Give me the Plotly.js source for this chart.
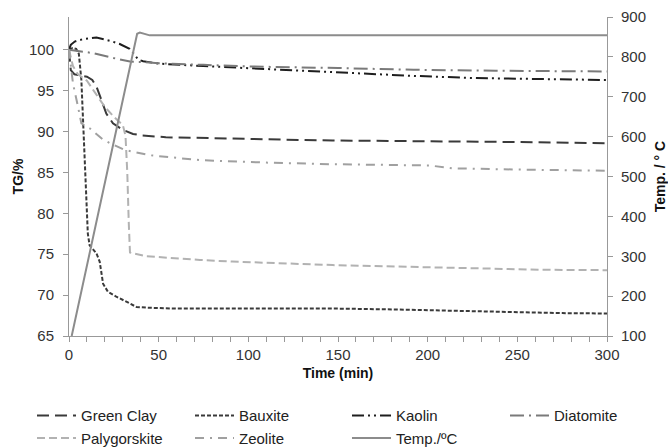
<!DOCTYPE html>
<html>
<head>
<meta charset="utf-8">
<script src="https://cdn.plot.ly/plotly-3.0.1.min.js"></script>
<style>html,body{margin:0;padding:0;background:#fff;}#chart{width:668px;height:447px;}</style>
</head>
<body>
<div id="chart"></div>
<script>
// ---- data ----
var greenClayT = [0, 0.5, 1, 3, 6, 10, 13, 15.3, 18, 20.8, 24.5, 30, 35.7, 41, 54, 80, 110, 147, 180, 225, 260, 300];
var greenClayV = [100, 99, 97.5, 97.0, 96.9, 96.7, 96.3, 95.5, 93.9, 92.2, 91.0, 90.2, 89.7, 89.5, 89.3, 89.15, 89.05, 88.9, 88.85, 88.8, 88.7, 88.57];

var bauxiteT = [0, 2, 4, 5.5, 6.9, 8.4, 9.9, 10.5, 11.5, 15.3, 17.1, 19, 21.7, 26.4, 32, 37.6, 45, 60, 100, 150, 180, 210, 240, 275, 300];
var bauxiteV = [100, 100.2, 100.1, 99.5, 96.3, 89, 81.6, 77.5, 76.1, 75.1, 74.1, 71.4, 70.4, 69.8, 69.2, 68.55, 68.45, 68.35, 68.35, 68.35, 68.25, 68.1, 68.0, 67.8, 67.75];

var kaolinT = [0, 1, 3.2, 7.8, 15.3, 22.7, 28.3, 33.8, 36.6, 38.5, 41.3, 50, 75, 100, 125, 150, 164, 192, 227, 251, 275, 300];
var kaolinV = [100, 100.6, 101.0, 101.3, 101.5, 101.1, 100.7, 100.1, 99.4, 98.8, 98.6, 98.3, 98.0, 97.75, 97.45, 97.2, 97.06, 96.8, 96.53, 96.45, 96.35, 96.3];

var diatomiteT = [0, 6, 13, 24.5, 30, 34, 40, 50, 75, 100, 150, 192, 238, 300];
var diatomiteV = [100, 99.8, 99.6, 99.0, 98.7, 98.55, 98.5, 98.35, 98.15, 97.95, 97.76, 97.55, 97.43, 97.34];

var palygorskiteT = [0, 1, 2.2, 5, 10, 15, 20, 25, 30, 31.5, 32.5, 33.3, 34, 43, 58, 73, 91, 110, 147, 201, 238, 264, 300];
var palygorskiteV = [100, 99.2, 98.0, 97.0, 96.2, 94.6, 93.0, 91.8, 90.8, 89.5, 85, 79, 75.2, 74.75, 74.5, 74.3, 74.1, 73.95, 73.67, 73.4, 73.25, 73.1, 73.05];

var zeoliteT = [0, 0.8, 2.2, 5, 6.9, 11.5, 19, 22.7, 31, 45, 73, 110, 147, 201, 214, 250, 300];
var zeoliteV = [100, 98.5, 95.9, 93.05, 91.0, 90.4, 89.0, 88.6, 87.75, 87.1, 86.5, 86.2, 86.0, 85.85, 85.5, 85.35, 85.2];

var tempT = [1.5, 38, 39.5, 45, 300];
var tempV = [100, 858, 861, 854, 854];

var seriesNames = ['Green Clay', 'Bauxite', 'Kaolin', 'Diatomite', 'Palygorskite', 'Zeolite', 'Temp./ºC'];
var xTickVals = [0, 50, 100, 150, 200, 250, 300];
var yTickVals = [65, 70, 75, 80, 85, 90, 95, 100];
var y2TickVals = [100, 200, 300, 400, 500, 600, 700, 800, 900];

// ---- traces ----
function tr(x, y, name, color, dash, legend, yaxis) {
  return {x: x, y: y, name: name, type: 'scatter', mode: 'lines',
    line: {color: color, width: 2, dash: dash},
    legend: legend, yaxis: yaxis || 'y', hoverinfo: 'x+y+name'};
}
// legend columns: col1 Green Clay/Palygorskite, col2 Bauxite/Zeolite, col3 Kaolin/Temp, col4 Diatomite
var data = [
  tr(greenClayT, greenClayV, seriesNames[0], '#3a3a3a', '12px,6px', 'legend'),
  tr(bauxiteT, bauxiteV, seriesNames[1], '#3a3a3a', '4px,2px', 'legend2'),
  tr(kaolinT, kaolinV, seriesNames[2], '#1e1e1e', '12px,4px,2px,4px,2px,4px', 'legend3'),
  tr(diatomiteT, diatomiteV, seriesNames[3], '#7a7a7a', '14px,5px,2px,5px', 'legend4'),
  tr(palygorskiteT, palygorskiteV, seriesNames[4], '#b2b2b2', '8px,4px', 'legend'),
  tr(zeoliteT, zeoliteV, seriesNames[5], '#a0a0a0', '9px,6px,2px,6px', 'legend2'),
  tr(tempT, tempV, seriesNames[6], '#8c8c8c', 'solid', 'legend3', 'y2')
];

var axisFont = {family: 'Liberation Sans, Arial, sans-serif', size: 15, color: '#333'};
var titleFont = {family: 'Liberation Sans, Arial, sans-serif', size: 14, color: '#111', weight: 'bold'};
var legendTop = -0.198;
function legendCol(xpos) {
  return {orientation: 'v', xanchor: 'left', yanchor: 'top', x: xpos, y: legendTop,
    itemwidth: 39, traceorder: 'normal', tracegroupgap: 0,
    bgcolor: 'rgba(0,0,0,0)', borderwidth: 0,
    font: {family: 'Liberation Sans, Arial, sans-serif', size: 15, color: '#222'}};
}

var layout = {
  width: 668, height: 447,
  margin: {l: 69, r: 61, t: 17, b: 111, pad: 0, autoexpand: false},
  paper_bgcolor: '#fff', plot_bgcolor: '#fff',
  showlegend: true,
  xaxis: {
    range: [0, 300], tickvals: xTickVals, ticktext: xTickVals.map(String),
    ticks: 'outside', ticklen: 5, tickcolor: '#999', tickwidth: 1,
    minor: {dtick: 10, tick0: 0, ticks: 'outside', ticklen: 5, tickcolor: '#999', tickwidth: 1, showgrid: false},
    showline: true, linecolor: '#999', linewidth: 1, showgrid: false, zeroline: false,
    tickfont: axisFont,
    title: {text: 'Time (min)', font: titleFont, standoff: 6}
  },
  yaxis: {
    range: [65, 104], tickvals: yTickVals, ticktext: yTickVals.map(String),
    ticks: 'outside', ticklen: 5, tickcolor: '#999', tickwidth: 1, ticklabelstandoff: 6,
    showline: true, linecolor: '#999', linewidth: 1, showgrid: false, zeroline: false,
    tickfont: axisFont,
    title: {text: 'TG/%', font: titleFont, standoff: 2}
  },
  yaxis2: {
    overlaying: 'y', side: 'right', anchor: 'x',
    range: [100, 900], tickvals: y2TickVals, ticktext: y2TickVals.map(String),
    ticks: 'outside', ticklen: 5, tickcolor: '#999', tickwidth: 1, ticklabelstandoff: 5,
    showline: true, linecolor: '#999', linewidth: 1, showgrid: false, zeroline: false,
    tickfont: axisFont,
    title: {text: 'Temp. / ° C', font: titleFont, standoff: 11}
  },
  legend: legendCol(-0.0688),
  legend2: legendCol(0.2249),
  legend3: legendCol(0.5167),
  legend4: legendCol(0.8104)
};

Plotly.newPlot('chart', data, layout, {displayModeBar: false, staticPlot: true});
</script>
</body>
</html>
